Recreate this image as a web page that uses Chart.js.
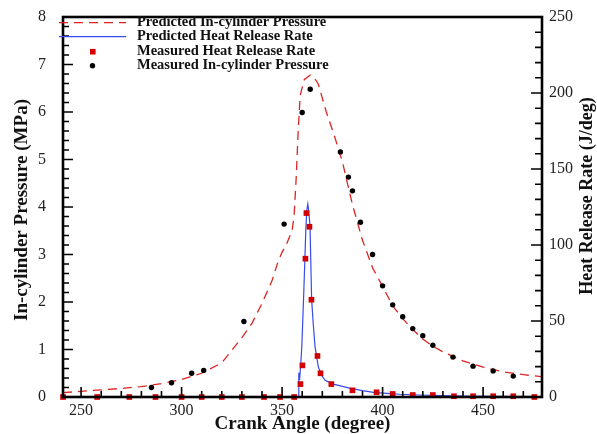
<!DOCTYPE html>
<html>
<head>
<meta charset="utf-8">
<script src="https://cdn.jsdelivr.net/npm/chart.js@4.4.0/dist/chart.umd.min.js"></script>
<style>
  body { margin: 0; background: #fff; }
  #wrap { width: 597px; height: 434px; }
</style>
</head>
<body>
<div id="wrap"><canvas id="chart"></canvas></div>
<script>
const xTicks = [250, 300, 350, 400, 450];
const pressureTicks = [0, 1, 2, 3, 4, 5, 6, 7, 8];
const hrrTicks = [0, 50, 100, 150, 200, 250];

// predicted in-cylinder pressure (MPa)
const predAngle = [241, 250, 260, 270, 280, 290, 300, 310, 320, 330, 335, 340, 345, 348, 350, 352, 355, 356, 357, 358, 359, 361, 364, 366, 368, 372, 376, 380, 385, 390, 395, 400, 405, 410, 415, 420, 425, 430, 440, 450, 460, 470, 479];
const predPressure = [0.09, 0.12, 0.15, 0.18, 0.22, 0.28, 0.37, 0.5, 0.72, 1.25, 1.55, 1.97, 2.45, 2.85, 3.05, 3.2, 3.5, 3.85, 4.6, 5.6, 6.35, 6.68, 6.78, 6.72, 6.59, 6.0, 5.5, 4.95, 4.05, 3.3, 2.72, 2.33, 1.92, 1.65, 1.42, 1.22, 1.07, 0.95, 0.76, 0.63, 0.53, 0.47, 0.43];

// predicted heat release rate (J/deg)
const predHrrAngle = [241, 300, 350, 358.1, 358.3, 358.7, 359.3, 359.8, 360.6, 361.2, 361.8, 362.3, 362.8, 363.3, 363.9, 364.7, 365.5, 366.4, 368, 369.5, 371.4, 373.5, 375.5, 380, 384, 390, 395.5, 402, 408.7, 418, 428.6, 440, 455, 479];
const predHrr = [0, 0, 0, 0, 16, 11, 22, 33, 62, 85, 110, 123, 127, 122, 112, 64, 48, 33, 20, 14.5, 11, 9.6, 8.5, 7, 5.7, 4.2, 3.1, 2.4, 1.8, 1.3, 0.9, 0.6, 0.4, 0.2];

// measured heat release rate
const measHrrAngle = [241, 258, 274, 287, 300, 310, 320, 330, 341, 349, 356, 359.1, 360.1, 361.6, 362.1, 363.6, 364.6, 367.6, 369.1, 374.5, 385, 397, 405, 415, 425, 435.5, 445, 455, 465, 475.5];
const measHrr = [0, 0, 0, 0, 0, 0, 0, 0, 0, 0, 0, 8.5, 20.8, 91, 121, 112, 64, 27, 15.6, 8.5, 4.4, 3.1, 2, 1.3, 1.3, 0.5, 0.5, 0.5, 0.5, 0];

// measured in-cylinder pressure
const measPresAngle = [285, 295, 305, 311, 331, 351, 360, 364, 379, 383, 385, 389, 395, 400, 405, 410, 415, 420, 425, 435, 445, 455, 465];
const measPressure = [0.2, 0.3, 0.5, 0.56, 1.59, 3.64, 5.99, 6.48, 5.16, 4.63, 4.34, 3.68, 3.0, 2.34, 1.94, 1.69, 1.44, 1.29, 1.09, 0.84, 0.65, 0.55, 0.44];

const serif = '"Liberation Serif", "Times New Roman", serif';

const pts = (xs, ys) => xs.map((x, i) => ({ x: x, y: ys[i] }));

const noPad = s => { s.paddingTop = 0; s.paddingBottom = 0; s.paddingLeft = 0; s.paddingRight = 0; };

// frame, inward ticks, axis titles and legend
const decor = {
  id: 'decor',
  afterDatasetsDraw(chart) {
    const { ctx, chartArea: a, scales } = chart;
    const sx = scales.x, sl = scales.y, sr = scales.y1;
    ctx.save();
    ctx.strokeStyle = '#000';
    ctx.lineWidth = 1.6;
    ctx.beginPath();
    for (let v = 250; v <= 470; v += 10) {
      const px = sx.getPixelForValue(v);
      const len = v % 50 === 0 ? 10 : 6;
      ctx.moveTo(px, a.bottom);
      ctx.lineTo(px, a.bottom - len);
    }
    for (let i = 1; i < 40; i++) {
      const py = sl.getPixelForValue(i * 0.2);
      const len = i % 5 === 0 ? 10 : 6;
      ctx.moveTo(a.left, py);
      ctx.lineTo(a.left + len, py);
    }
    for (let v = 10; v < 250; v += 10) {
      const py = sr.getPixelForValue(v);
      const len = v % 50 === 0 ? 11 : 7;
      ctx.moveTo(a.right, py);
      ctx.lineTo(a.right - len, py);
    }
    ctx.stroke();
    ctx.lineWidth = 2.6;
    ctx.strokeRect(a.left, a.top, a.right - a.left, a.bottom - a.top);

    // axis titles
    ctx.fillStyle = '#111';
    ctx.textAlign = 'center';
    ctx.textBaseline = 'middle';
    ctx.font = 'bold 19px ' + serif;
    ctx.fillText('Crank Angle (degree)', (a.left + a.right) / 2, 424);
    ctx.save();
    ctx.translate(22, 210);
    ctx.rotate(-Math.PI / 2);
    ctx.fillText('In-cylinder Pressure (MPa)', 0, 0);
    ctx.restore();
    ctx.font = 'bold 18px ' + serif;
    ctx.save();
    ctx.translate(587, 196);
    ctx.rotate(-Math.PI / 2);
    ctx.fillText('Heat Release Rate (J/deg)', 0, 0);
    ctx.restore();

    // legend
    const rows = [22.7, 36.7, 51.7, 65.7];
    ctx.font = 'bold 14.5px ' + serif;
    ctx.textAlign = 'left';
    chart.data.datasets.forEach((ds, i) => {
      const y = rows[i];
      if (ds.showLine) {
        ctx.save();
        ctx.strokeStyle = ds.borderColor;
        ctx.lineWidth = ds.borderWidth;
        ctx.setLineDash(ds.borderDash || []);
        ctx.beginPath();
        ctx.moveTo(59, y);
        ctx.lineTo(126, y);
        ctx.stroke();
        ctx.restore();
      } else {
        ctx.fillStyle = ds.backgroundColor;
        if (ds.pointStyle === 'rect') {
          ctx.fillRect(90, y - 2.8, 5.6, 5.6);
        } else {
          ctx.beginPath();
          ctx.arc(92.5, y, 2.7, 0, Math.PI * 2);
          ctx.fill();
        }
      }
      ctx.fillStyle = '#111';
      ctx.fillText(ds.label, 137, y);
    });
    ctx.restore();
  }
};

new Chart(document.getElementById('chart'), {
  type: 'scatter',
  data: {
    datasets: [
      {
        label: 'Predicted In-cylinder Pressure',
        data: pts(predAngle, predPressure),
        yAxisID: 'y',
        showLine: true,
        borderColor: 'rgb(222,35,35)',
        borderWidth: 1.3,
        borderDash: [9, 6],
        pointRadius: 0,
        order: 4
      },
      {
        label: 'Predicted Heat Release Rate',
        data: pts(predHrrAngle, predHrr),
        yAxisID: 'y1',
        showLine: true,
        borderColor: 'rgb(55,75,240)',
        borderWidth: 1.2,
        pointRadius: 0,
        order: 3
      },
      {
        label: 'Measured Heat Release Rate',
        data: pts(measHrrAngle, measHrr),
        yAxisID: 'y1',
        pointStyle: 'rect',
        pointRadius: 4,
        backgroundColor: 'rgb(210,0,0)',
        borderWidth: 0,
        clip: false,
        order: 2
      },
      {
        label: 'Measured In-cylinder Pressure',
        data: pts(measPresAngle, measPressure),
        yAxisID: 'y',
        pointStyle: 'circle',
        pointRadius: 2.7,
        backgroundColor: '#000',
        borderWidth: 0,
        clip: false,
        order: 1
      }
    ]
  },
  options: {
    responsive: true,
    maintainAspectRatio: false,
    animation: false,
    layout: { padding: { top: 17, left: 0, right: 0, bottom: 0 } },
    plugins: { legend: { display: false }, tooltip: { enabled: false } },
    scales: {
      x: {
        type: 'linear',
        min: 241,
        max: 479.3,
        grid: { display: false, drawTicks: false },
        border: { display: false },
        ticks: { font: { family: serif, size: 16 }, color: '#222', padding: 4, maxRotation: 0 },
        afterBuildTicks: s => { s.ticks = xTicks.map(v => ({ value: v })); },
        afterFit: s => { s.height = 37; noPad(s); }
      },
      y: {
        type: 'linear',
        position: 'left',
        min: 0,
        max: 8,
        grid: { display: false, drawTicks: false },
        border: { display: false },
        ticks: { font: { family: serif, size: 16 }, color: '#222', padding: 17 },
        afterBuildTicks: s => { s.ticks = pressureTicks.map(v => ({ value: v })); },
        afterFit: s => { s.width = 63; noPad(s); }
      },
      y1: {
        type: 'linear',
        position: 'right',
        min: 0,
        max: 250,
        grid: { display: false, drawTicks: false },
        border: { display: false },
        ticks: { font: { family: serif, size: 16 }, color: '#222', padding: 7 },
        afterBuildTicks: s => { s.ticks = hrrTicks.map(v => ({ value: v })); },
        afterFit: s => { s.width = 55; noPad(s); }
      }
    }
  },
  plugins: [decor]
});
</script>
</body>
</html>
